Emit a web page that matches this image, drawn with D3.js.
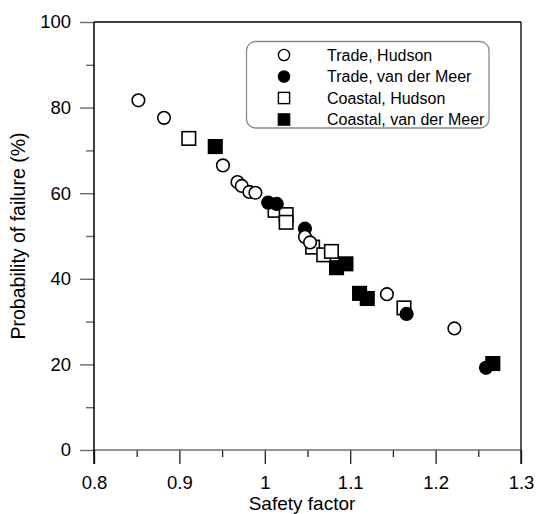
<!DOCTYPE html>
<html>
<head>
<meta charset="utf-8">
<script src="https://cdn.jsdelivr.net/npm/d3@7"></script>
<style>
  html, body { margin: 0; padding: 0; background: #fff; }
  svg { display: block; font-family: "Liberation Sans", Arial, sans-serif; }
</style>
</head>
<body>
<svg id="chart" width="536" height="514"></svg>
<script>
// Safety factor vs probability of failure, four data sets
const tradeHudsonSF   = [0.852, 0.882, 0.951, 0.968, 0.973, 0.982, 0.989, 1.047, 1.053, 1.143, 1.222];
const tradeHudsonPf   = [81.7, 77.6, 66.5, 62.6, 61.7, 60.3, 60.1, 49.8, 48.5, 36.4, 28.4];

const tradeMeerSF     = [1.004, 1.014, 1.047, 1.166, 1.259];
const tradeMeerPf     = [57.8, 57.5, 51.7, 31.8, 19.2];

const coastalHudsonSF = [0.911, 1.012, 1.025, 1.025, 1.056, 1.069, 1.078, 1.163];
const coastalHudsonPf = [72.8, 56.0, 55.0, 53.2, 47.4, 45.6, 46.4, 33.2];

const coastalMeerSF   = [0.942, 1.084, 1.095, 1.111, 1.120, 1.267];
const coastalMeerPf   = [70.9, 42.6, 43.5, 36.6, 35.4, 20.2];

const seriesNames = ["Trade, Hudson", "Trade, van der Meer", "Coastal, Hudson", "Coastal, van der Meer"];

const xMajorTicks = [0.8, 0.9, 1.0, 1.1, 1.2, 1.3];
const xTickLabels = ["0.8", "0.9", "1", "1.1", "1.2", "1.3"];
const xMinorTicks = [0.85, 0.95, 1.05, 1.15, 1.25];
const yMajorTicks = [0, 20, 40, 60, 80, 100];
const yTickLabels = ["0", "20", "40", "60", "80", "100"];
const yMinorTicks = [10, 30, 50, 70, 90];

const svg = d3.select("#chart");
const plotL = 94, plotR = 521, plotT = 22, plotB = 450;

const x = d3.scaleLinear().domain([0.8, 1.3]).range([plotL, plotR]);
const y = d3.scaleLinear().domain([0, 100]).range([plotB, plotT]);

const zip = (a, b) => a.map((v, i) => [v, b[i]]);
const sets = [
  { name: seriesNames[0], shape: "circle", filled: false, data: zip(tradeHudsonSF, tradeHudsonPf) },
  { name: seriesNames[1], shape: "circle", filled: true,  data: zip(tradeMeerSF, tradeMeerPf) },
  { name: seriesNames[2], shape: "square", filled: false, data: zip(coastalHudsonSF, coastalHudsonPf) },
  { name: seriesNames[3], shape: "square", filled: true,  data: zip(coastalMeerSF, coastalMeerPf) }
];

const circleR = 6.3, squareS = 13.5;

function drawMarker(g, shape, filled) {
  if (shape === "circle") {
    g.append("circle").attr("r", circleR);
  } else {
    g.append("rect").attr("x", -squareS / 2).attr("y", -squareS / 2)
      .attr("width", squareS).attr("height", squareS);
  }
  g.selectAll("circle,rect")
    .attr("fill", filled ? "#000" : "#fff")
    .attr("stroke", "#000")
    .attr("stroke-width", 1.6);
}

// Axes
const tickFont = 18.5;

const yAxis = svg.append("g").attr("transform", `translate(${plotL},0)`)
  .call(d3.axisLeft(y).tickValues(yMajorTicks).tickSize(14).tickPadding(9)
    .tickFormat((d, i) => yTickLabels[i]));
yAxis.select(".domain").remove();
yAxis.selectAll(".tick line").attr("stroke", "#6a6a6a").attr("stroke-width", 1.4);
yAxis.selectAll("text").attr("font-size", tickFont).attr("fill", "#000")
  .attr("font-family", "Liberation Sans, Arial, sans-serif");

const yMinor = svg.append("g").attr("transform", `translate(${plotL},0)`)
  .call(d3.axisLeft(y).tickValues(yMinorTicks).tickSize(8).tickFormat(""));
yMinor.select(".domain").remove();
yMinor.selectAll(".tick line").attr("stroke", "#6a6a6a").attr("stroke-width", 1.4);

const xAxis = svg.append("g").attr("transform", `translate(0,${plotB})`)
  .call(d3.axisBottom(x).tickValues(xMajorTicks).tickSize(14).tickPadding(12)
    .tickFormat((d, i) => xTickLabels[i]));
xAxis.select(".domain").remove();
xAxis.selectAll(".tick line").attr("stroke", "#222").attr("stroke-width", 1.3);
xAxis.selectAll("text").attr("font-size", tickFont).attr("fill", "#000")
  .attr("font-family", "Liberation Sans, Arial, sans-serif");

const xMinor = svg.append("g").attr("transform", `translate(0,${plotB})`)
  .call(d3.axisBottom(x).tickValues(xMinorTicks).tickSize(7).tickFormat(""));
xMinor.select(".domain").remove();
xMinor.selectAll(".tick line").attr("stroke", "#222").attr("stroke-width", 1.3);

// Frame
svg.append("line").attr("x1", plotL).attr("x2", plotR).attr("y1", plotB).attr("y2", plotB)
  .attr("stroke", "#707070").attr("stroke-width", 1.6);
svg.append("line").attr("x1", plotL).attr("x2", plotR).attr("y1", plotT).attr("y2", plotT)
  .attr("stroke", "#000").attr("stroke-width", 1.3);
svg.append("line").attr("x1", plotL).attr("x2", plotL).attr("y1", plotT).attr("y2", plotB + 14)
  .attr("stroke", "#000").attr("stroke-width", 1.5);
svg.append("line").attr("x1", plotR).attr("x2", plotR).attr("y1", plotT).attr("y2", plotB + 14)
  .attr("stroke", "#000").attr("stroke-width", 1.3);

// Axis titles
svg.append("text").attr("x", 302).attr("y", 510.3).attr("text-anchor", "middle")
  .attr("font-size", 19).text("Safety factor");
svg.append("text").attr("transform", `translate(25,${(plotT + plotB) / 2}) rotate(-90)`)
  .attr("text-anchor", "middle").attr("font-size", 19.5).text("Probability of failure (%)");

// Points: drawing order keeps the filled markers above the open squares
const drawOrder = [2, 1, 0, 3];
drawOrder.forEach(k => {
  const s = sets[k];
  svg.append("g").selectAll("g").data(s.data).join("g")
    .attr("transform", d => `translate(${x(d[0])},${y(d[1])})`)
    .each(function () { drawMarker(d3.select(this), s.shape, s.filled); });
});

// Legend
const legend = svg.append("g");
legend.append("rect").attr("x", 246.5).attr("y", 41.5).attr("width", 242.5).attr("height", 86.5)
  .attr("rx", 9).attr("ry", 9).attr("fill", "#fff")
  .attr("stroke", "#8a8a8a").attr("stroke-width", 1.3);
sets.forEach((s, i) => {
  const cy = 55 + i * 21.5;
  const g = legend.append("g").attr("transform", `translate(284,${cy})`);
  if (s.shape === "circle") {
    g.append("circle").attr("r", 5.6);
  } else {
    g.append("rect").attr("x", -5.6).attr("y", -5.6).attr("width", 11.2).attr("height", 11.2);
  }
  g.selectAll("circle,rect").attr("fill", s.filled ? "#000" : "#fff")
    .attr("stroke", "#000").attr("stroke-width", 1.4);
  legend.append("text").attr("x", 327).attr("y", cy + 5.6)
    .attr("font-size", 16).text(s.name);
});
</script>
</body>
</html>
